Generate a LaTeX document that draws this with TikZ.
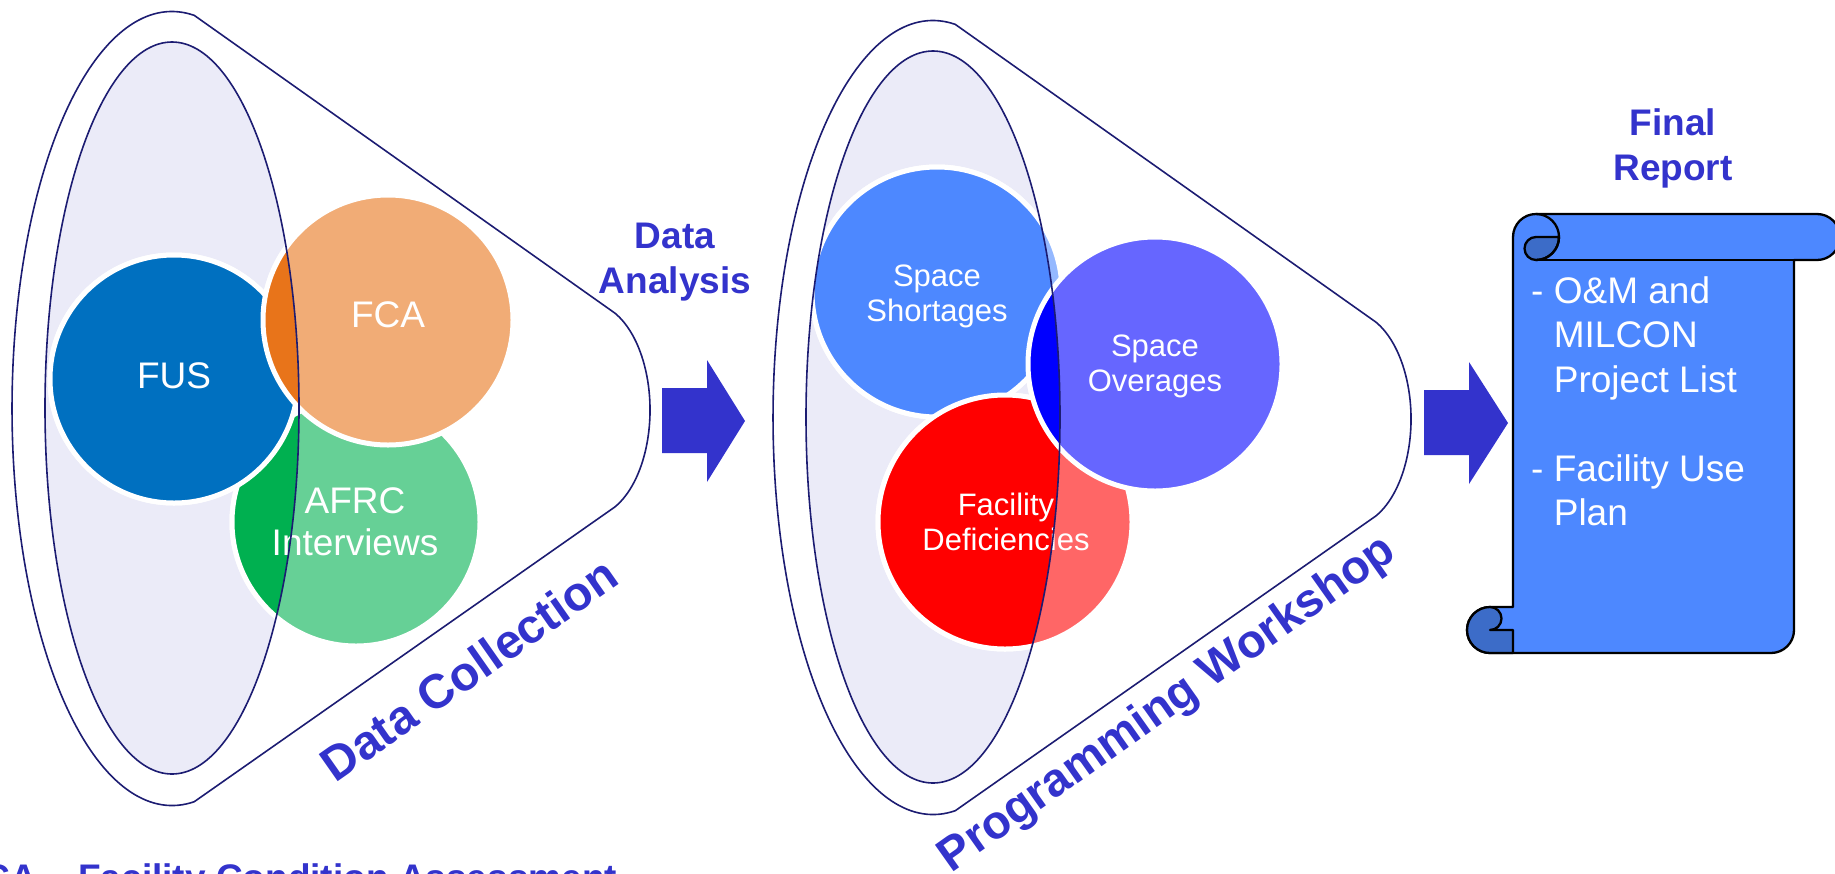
\documentclass[tikz,border=0pt]{standalone}
\usepackage{fontspec}
\setmainfont{Liberation Sans}

\definecolor{headblue}{HTML}{3333CC}
\definecolor{funnelnavy}{HTML}{1C1C72}
\definecolor{mouthfill}{HTML}{EBEBF8}
\definecolor{fusblue}{HTML}{0070C0}
\definecolor{fcaorange}{HTML}{E8741A}
\definecolor{afrcgreen}{HTML}{00B050}
\definecolor{shortblue}{HTML}{4D88FF}
\definecolor{overblue}{HTML}{0000FF}
\definecolor{defred}{HTML}{FF0000}
\definecolor{scrollfill}{HTML}{4D88FF}
\definecolor{scrollcurl}{HTML}{3C6CC8}

\tikzset{
  funnelline/.style={draw=funnelnavy, line width=1.6pt},
  bubble/.style={draw=white, line width=5pt},
  bubbletext/.style={text=white, align=center, inner sep=0pt},
  heading/.style={text=headblue, align=center, inner sep=0pt, font=\bfseries\fontsize{37}{45}\selectfont},
  slanted/.style={text=headblue, inner sep=0pt, font=\bfseries\fontsize{48}{58}\selectfont},
  flowarrow/.style={fill=headblue},
  scrolledge/.style={draw=black, line width=2.3pt, line join=round},
  scrolltext/.style={text=white, align=left, inner sep=0pt, font=\fontsize{37}{44.5}\selectfont},
}

\begin{document}
\begin{tikzpicture}[x=1pt, y=-1pt]
\useasboundingbox (0,0) rectangle (1835,873);
\clip (0,0) rectangle (1835,873);

\draw[funnelline] (194.3,15.4) arc[start angle=-82, end angle=-278, x radius=160, y radius=397]
  -- (614.8,507) arc[start angle=65, end angle=-65, x radius=61, y radius=107] -- cycle;
\fill[mouthfill] (172,408) ellipse[x radius=127, y radius=366];
\path[bubble, fill=afrcgreen!60] (356,522) circle[radius=124];
\path[bubble, fill=fusblue!60] (174,379) circle[radius=124];
\path[bubble, fill=fcaorange!60] (388,320) circle[radius=125];
\begin{scope}
  \clip (172,408) ellipse[x radius=127, y radius=366];
  \path[bubble, fill=afrcgreen] (356,522) circle[radius=124];
  \path[bubble, fill=fusblue] (174,379) circle[radius=124];
  \path[bubble, fill=fcaorange] (388,320) circle[radius=125];
\end{scope}
\node[bubbletext, font=\fontsize{37}{42}\selectfont] (fus) at (174,376) {FUS};
\node[bubbletext, font=\fontsize{37}{42}\selectfont] (fca) at (388,315) {FCA};
\node[bubbletext, font=\fontsize{37}{42}\selectfont, anchor=north] (afrc) at (355,487) {AFRC\\Interviews};
\draw[funnelline] (172,408) ellipse[x radius=127, y radius=366];

\fill[flowarrow] (662,388) -- (707,388) -- (707,360) -- (745,421) -- (707,482) -- (707,453) -- (662,453) -- cycle;

\draw[funnelline] (955.3,24.4) arc[start angle=-82, end angle=-278, x radius=160, y radius=397]
  -- (1375.8,516) arc[start angle=65, end angle=-65, x radius=61, y radius=107] -- cycle;
\fill[mouthfill] (933,417) ellipse[x radius=127, y radius=366];
\path[bubble, fill=shortblue!60] (937,292) circle[radius=125];
\path[bubble, fill=defred!60] (1005,522) circle[radius=127];
\path[bubble, fill=overblue!60] (1155,364) circle[radius=127];
\begin{scope}
  \clip (933,417) ellipse[x radius=127, y radius=366];
  \path[bubble, fill=shortblue] (937,292) circle[radius=125];
  \path[bubble, fill=defred] (1005,522) circle[radius=127];
  \path[bubble, fill=overblue] (1155,364) circle[radius=127];
\end{scope}
\node[bubbletext, font=\fontsize{31}{35}\selectfont, anchor=north] (shortage) at (937,265) {Space\\Shortages};
\node[bubbletext, font=\fontsize{31}{35}\selectfont, anchor=north] (overage) at (1155,335) {Space\\Overages};
\node[bubbletext, font=\fontsize{31}{35}\selectfont, anchor=north] (deficiency) at (1006,493) {Facility\\Deficiencies};
\draw[funnelline] (933,417) ellipse[x radius=127, y radius=366];

\fill[flowarrow] (1424,390) -- (1469,390) -- (1469,362) -- (1508,423) -- (1469,484) -- (1469,455) -- (1424,455) -- cycle;

\path[scrolledge, fill=scrollfill] (1513,237) -- (1513,607) -- (1490,607)
  arc[start angle=-90, end angle=-270, radius=23] -- (1771,653)
  arc[start angle=90, end angle=0, radius=23] -- (1794,260) -- (1817,260)
  arc[start angle=90, end angle=-90, radius=23] -- (1536,214)
  arc[start angle=-90, end angle=-180, radius=23] -- cycle;
\path[scrolledge, fill=scrollcurl] (1490,607) arc[start angle=-90, end angle=-270, radius=23]
  -- (1513,653) -- (1513,630) -- (1490,630) arc[start angle=90, end angle=-90, radius=11.5] -- cycle;
\path[scrolledge, fill=scrollcurl] (1536,237) -- (1559,237) arc[start angle=0, end angle=90, radius=23]
  arc[start angle=90, end angle=270, radius=11.5] -- cycle;
\draw[scrolledge] (1536,214) arc[start angle=-90, end angle=90, radius=23];
\draw[scrolledge] (1536,260) -- (1794,260);
\node[scrolltext, anchor=north west] (planlist) at (1531,276)
  {- O\&M and\\\phantom{- }MILCON\\\phantom{- }Project List\\[44.5pt]- Facility Use\\\phantom{- }Plan};

\node[slanted, rotate=35] (collection) at (469,669) {Data Collection};
\node[slanted, rotate=35.3, font=\bfseries\fontsize{47}{57}\selectfont] (workshop) at (1168,705) {Programming Workshop};
\node[heading, anchor=north] (analysis) at (675,223) {Data\\Analysis};
\node[heading, anchor=north] (report) at (1673,108) {Final\\Report};
\node[heading, anchor=base west] (fcanote) at (-39,890) {FCA – Facility Condition Assessment};
\end{tikzpicture}
\end{document}
